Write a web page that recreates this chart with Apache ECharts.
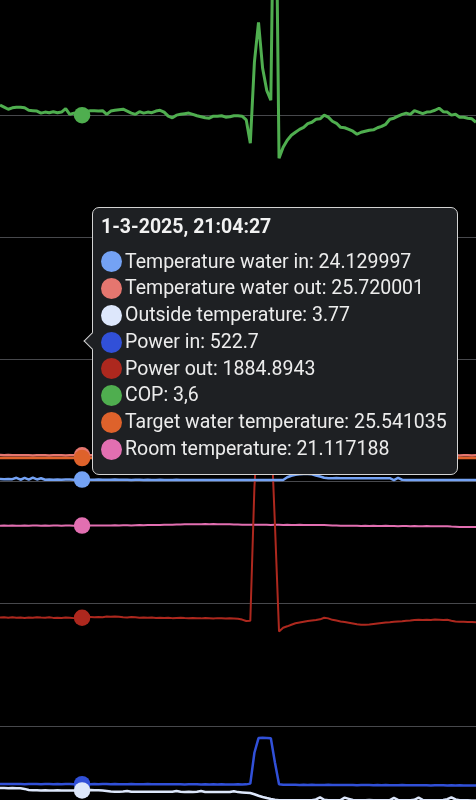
<!DOCTYPE html>
<html>
<head>
<meta charset="utf-8">
<script src="https://cdn.jsdelivr.net/npm/echarts@6/dist/echarts.min.js"></script>
<style>
html,body{margin:0;padding:0;background:#000;overflow:hidden;}
#chart{width:476px;height:800px;}
</style>
</head>
<body>
<div id="chart"></div>
<script>
// ---- data ----
const dateLabel = '1-3-2025';
const startTime = '20:59:27';
const sampleSeconds = 15;
const tipIndex = 20;

const seriesNames = ['Temperature water in', 'Temperature water out', 'Outside temperature', 'Power in', 'Power out', 'COP', 'Target water temperature', 'Room temperature'];
const seriesColors = ['#74a2f4', '#e5766f', '#dde7fb', '#3150d8', '#ad281e', '#4fae4f', '#de622b', '#e26fb1'];

const waterIn = [24.17,24.16,24.17,24.16,24.25,24.12,24.24,24.13,24.26,24.14,
 24.22,24.12,24.13,24.12,24.13,24.12,24.13,24.13,24.12,24.13,
 24.129997,24.13,24.12,24.12,24.13,24.12,24.12,24.12,24.13,24.12,
 24.12,24.12,24.11,24.12,24.12,24.11,24.12,24.11,24.11,24.12,
 24.11,24.11,24.11,24.12,24.11,24.11,24.11,24.10,24.11,24.11,
 24.10,24.11,24.10,24.10,24.11,24.10,24.10,24.10,24.11,24.10,
 24.10,24.10,24.10,24.10,24.10,24.11,24.10,24.10,24.10,24.10,
 24.28,24.38,24.45,24.48,24.50,24.50,24.48,24.40,24.33,24.25,
 24.22,24.22,24.23,24.22,24.22,24.21,24.22,24.22,24.21,24.22,
 24.22,24.21,24.22,24.21,24.22,24.22,24.10,24.24,24.12,24.11,
 24.11,24.10,24.11,24.11,24.10,24.11,24.11,24.10,24.11,24.11,
 24.10,24.11,24.10,24.11,24.11,24.10,24.11];

const waterOut = [25.74,25.73,25.74,25.72,25.73,25.72,25.73,25.72,25.71,25.72,
 25.73,25.72,25.71,25.72,25.73,25.72,25.71,25.72,25.72,25.71,
 25.720001,25.72,25.73,25.72,25.71,25.72,25.72,25.73,25.72,25.71,
 25.72,25.72,25.71,25.72,25.73,25.72,25.72,25.71,25.72,25.72,
 25.71,25.72,25.72,25.71,25.72,25.71,25.72,25.72,25.71,25.72,
 25.72,25.71,25.71,25.72,25.71,25.72,25.71,25.71,25.72,25.71,
 25.71,25.72,25.73,25.75,25.77,25.78,25.78,25.77,25.75,25.74,
 25.73,25.73,25.72,25.72,25.73,25.72,25.72,25.71,25.72,25.72,
 25.71,25.72,25.71,25.72,25.72,25.71,25.72,25.71,25.71,25.72,
 25.71,25.72,25.71,25.71,25.72,25.71,25.72,25.71,25.72,25.71,
 25.72,25.71,25.72,25.72,25.71,25.72,25.71,25.72,25.72,25.71,
 25.72,25.72,25.71,25.72,25.72,25.71,25.72];

const outside = [3.93,3.93,3.92,3.93,3.92,3.92,3.87,3.80,3.78,3.78,
 3.77,3.78,3.77,3.77,3.78,3.77,3.77,3.76,3.77,3.77,
 3.77,3.79,3.80,3.79,3.78,3.76,3.73,3.70,3.69,3.69,
 3.70,3.74,3.69,3.68,3.69,3.68,3.69,3.68,3.69,3.68,
 3.68,3.69,3.68,3.73,3.68,3.67,3.68,3.67,3.68,3.73,
 3.67,3.66,3.67,3.66,3.67,3.66,3.67,3.72,3.66,3.64,
 3.62,3.60,3.52,3.42,3.34,3.27,3.21,3.16,3.13,3.13,
 3.13,3.12,3.13,3.12,3.13,3.12,3.13,3.18,3.32,3.16,
 3.13,3.12,3.13,3.14,3.30,3.22,3.14,3.13,3.12,3.13,
 3.14,3.13,3.12,3.13,3.12,3.14,3.28,3.15,3.13,3.12,
 3.13,3.16,3.30,3.15,3.13,3.12,3.13,3.12,3.14,3.20,
 3.32,3.18,3.13,3.12,3.12,3.11,3.11];

const powerIn = [524,523,525,524,523,524,522,523,524,523,
 522,523,524,522,523,522,523,524,522,523,
 522.7,523,522,523,522,524,523,522,523,522,
 521,522,523,522,521,522,523,522,521,522,
 521,522,521,522,521,520,521,522,521,520,
 521,520,521,520,521,520,519,520,521,520,
 521,527,780,900,902,901,898,700,522,518,
 517,518,517,516,517,516,517,516,515,516,
 517,516,515,516,515,516,515,514,515,516,
 515,514,515,514,515,514,513,514,515,514,
 513,514,513,514,513,512,513,514,513,512,
 513,512,513,512,511,512,511];

const powerOut = [1888,1890,1886,1889,1885,1887,1884,1888,1886,1890,
 1887,1885,1889,1884,1886,1883,1887,1885,1882,1886,
 1884.8943,1893,1891,1889,1892,1890,1895,1893,1896,1894,
 1890,1888,1891,1889,1886,1888,1885,1887,1884,1886,
 1883,1885,1882,1884,1886,1883,1881,1884,1882,1880,
 1883,1881,1879,1882,1880,1878,1881,1879,1877,1870,
 1858,1860,2955,3540,3520,3490,3480,2650,1773,1803,
 1815,1828,1840,1846,1852,1858,1862,1866,1872,1885,
 1880,1868,1862,1855,1850,1844,1838,1832,1828,1827,
 1830,1834,1838,1842,1846,1848,1852,1854,1856,1860,
 1862,1866,1868,1866,1869,1867,1870,1868,1866,1868,
 1860,1854,1852,1853,1850,1851,1848];

const cop = [3.649,3.639,3.629,3.636,3.639,3.639,3.636,3.624,3.622,3.620,
 3.610,3.615,3.612,3.617,3.612,3.615,3.632,3.604,3.610,3.602,
 3.6,3.615,3.622,3.622,3.620,3.622,3.604,3.620,3.624,3.627,
 3.629,3.620,3.610,3.604,3.617,3.610,3.615,3.612,3.620,3.624,
 3.615,3.595,3.587,3.600,3.604,3.607,3.610,3.604,3.597,3.592,
 3.587,3.585,3.595,3.595,3.597,3.590,3.592,3.597,3.597,3.595,
 3.577,3.462,3.860,4.056,3.830,3.722,3.673,5.200,3.388,3.442,
 3.477,3.501,3.516,3.530,3.540,3.558,3.565,3.580,3.582,3.600,
 3.590,3.570,3.560,3.540,3.538,3.530,3.521,3.506,3.516,3.521,
 3.526,3.528,3.538,3.545,3.555,3.580,3.585,3.595,3.604,3.610,
 3.604,3.622,3.615,3.607,3.615,3.617,3.624,3.634,3.617,3.615,
 3.600,3.604,3.590,3.590,3.585,3.582,3.565];

const targetTemp = [25.54,25.54,25.54,25.54,25.54,25.54,25.54,25.54,25.54,25.54,
 25.54,25.54,25.54,25.54,25.54,25.54,25.54,25.54,25.54,25.54,
 25.541035,25.54,25.54,25.54,25.54,25.54,25.54,25.54,25.54,25.54,
 25.54,25.54,25.54,25.54,25.54,25.54,25.54,25.54,25.54,25.54,
 25.54,25.54,25.54,25.54,25.54,25.54,25.54,25.54,25.54,25.54,
 25.54,25.54,25.54,25.54,25.54,25.54,25.54,25.54,25.54,25.54,
 25.55,25.55,25.55,25.55,25.55,25.55,25.55,25.55,25.55,25.55,
 25.55,25.55,25.55,25.55,25.55,25.55,25.55,25.55,25.55,25.55,
 25.55,25.55,25.55,25.55,25.55,25.55,25.55,25.55,25.55,25.55,
 25.55,25.55,25.55,25.55,25.55,25.55,25.55,25.55,25.55,25.55,
 25.55,25.55,25.55,25.55,25.55,25.55,25.55,25.55,25.55,25.55,
 25.55,25.55,25.55,25.55,25.55,25.55,25.55];

const roomTemp = [21.11,21.12,21.11,21.12,21.11,21.11,21.12,21.11,21.12,21.12,
 21.11,21.12,21.11,21.12,21.12,21.11,21.12,21.12,21.11,21.12,
 21.117188,21.12,21.13,21.12,21.13,21.13,21.12,21.13,21.14,21.13,
 21.14,21.14,21.13,21.14,21.15,21.14,21.15,21.16,21.15,21.16,
 21.17,21.18,21.18,21.19,21.19,21.20,21.20,21.21,21.21,21.21,
 21.22,21.21,21.22,21.21,21.21,21.20,21.20,21.19,21.19,21.18,
 21.18,21.17,21.17,21.18,21.17,21.17,21.16,21.17,21.17,21.16,
 21.17,21.16,21.16,21.17,21.16,21.16,21.15,21.16,21.15,21.15,
 21.14,21.13,21.12,21.11,21.11,21.10,21.10,21.10,21.09,21.10,
 21.09,21.10,21.09,21.09,21.10,21.09,21.09,21.08,21.09,21.09,
 21.08,21.09,21.08,21.08,21.09,21.08,21.08,21.08,21.07,21.07,
 21.05,21.04,21.03,21.03,21.02,21.02,21.02];

const tempTicks = {min: 0, max: 56, interval: 8};
const powerTicks = {min: 0, max: 7000, interval: 1000};
const copTicks = {min: 0, max: 4.2, interval: 0.6};

// ---- build ----
const timeLabels = (function () {
  const p = startTime.split(':').map(Number);
  const s0 = p[0] * 3600 + p[1] * 60 + p[2];
  const out = [];
  const pad = n => String(n).padStart(2, '0');
  for (let i = 0; i < waterIn.length; i++) {
    const s = s0 + i * sampleSeconds;
    out.push(pad(Math.floor(s / 3600) % 24) + ':' + pad(Math.floor(s / 60) % 60) + ':' + pad(s % 60));
  }
  return out;
})();

const seriesData = [waterIn, waterOut, outside, powerIn, powerOut, cop, targetTemp, roomTemp];
const axisOf = [0, 0, 0, 1, 1, 2, 0, 0];
const widths = [2.5, 2.5, 2.5, 2.5, 2, 3, 2.5, 2];
const layerZ = [20, 18, 17, 16, 15, 14, 19, 13];

const chart = echarts.init(document.getElementById('chart'), null, {renderer: 'canvas'});

function fmtValue(idx, v) {
  if (idx === 5) return v.toFixed(1).replace('.', ',');
  return String(v);
}

const option = {
  backgroundColor: '#000',
  animation: false,
  grid: {left: 0, right: 0, top: -7, height: 855, containLabel: false, outerBoundsMode: 'none'},
  xAxis: {
    type: 'category', data: timeLabels, boundaryGap: false, show: false
  },
  yAxis: [
    {type: 'value', min: tempTicks.min, max: tempTicks.max, interval: tempTicks.interval,
     axisLabel: {show: false}, axisLine: {show: false}, axisTick: {show: false},
     splitLine: {show: true, lineStyle: {color: '#47484c', width: 1}}},
    {type: 'value', min: powerTicks.min, max: powerTicks.max, interval: powerTicks.interval, show: false,
     splitLine: {show: false}},
    {type: 'value', min: copTicks.min, max: copTicks.max, interval: copTicks.interval, show: false,
     splitLine: {show: false}}
  ],
  tooltip: {
    trigger: 'axis',
    axisPointer: {type: 'none'},
    alwaysShowContent: true,
    transitionDuration: 0,
    backgroundColor: '#1e2023',
    borderColor: '#d3d3d3',
    borderWidth: 1.5,
    borderRadius: 7,
    padding: 0,
    extraCssText: 'box-shadow:none;overflow:visible;',
    position: [92, 207],
    formatter: function (params) {
      const idx = params[0].dataIndex;
      let h = '<div style="position:relative;padding:6px 10px 11px 8px;font-family:Roboto,\'Liberation Sans\',Arial,sans-serif;color:#ececec;">';
      h += '<div style="position:absolute;left:-7.5px;top:calc(50% - 6px);width:12px;height:12px;box-sizing:border-box;background:#1e2023;border-left:1.5px solid #d3d3d3;border-bottom:1.5px solid #d3d3d3;transform:rotate(45deg);"></div>';
      h += '<div style="font-weight:bold;font-size:19.5px;line-height:26px;margin-bottom:8.5px;color:#f2f2f2;">' + dateLabel + ', ' + timeLabels[idx] + '</div>';
      params.forEach(function (p) {
        h += '<div style="font-size:19.5px;line-height:26.75px;height:26.75px;white-space:nowrap;display:flex;align-items:center;">' +
          '<span style="display:inline-block;width:21px;height:21px;border-radius:50%;background:' + seriesColors[p.seriesIndex] + ';margin-right:3px;flex:none;"></span>' +
          '<span>' + p.seriesName + ': ' + fmtValue(p.seriesIndex, p.value) + '</span></div>';
      });
      h += '</div>';
      return h;
    }
  },
  series: seriesNames.map(function (name, k) {
    return {
      name: name,
      type: 'line',
      data: seriesData[k],
      yAxisIndex: axisOf[k],
      z: layerZ[k],
      color: seriesColors[k],
      lineStyle: {width: widths[k], color: seriesColors[k]},
      showSymbol: true,
      showAllSymbol: true,
      symbol: 'circle',
      symbolSize: function (v, p) { return p.dataIndex === tipIndex ? 15 : 0; },
      itemStyle: {color: seriesColors[k], borderWidth: 0},
      emphasis: {disabled: true},
      smooth: false
    };
  })
};

chart.setOption(option);
chart.dispatchAction({type: 'showTip', seriesIndex: 0, dataIndex: tipIndex});
</script>
</body>
</html>
